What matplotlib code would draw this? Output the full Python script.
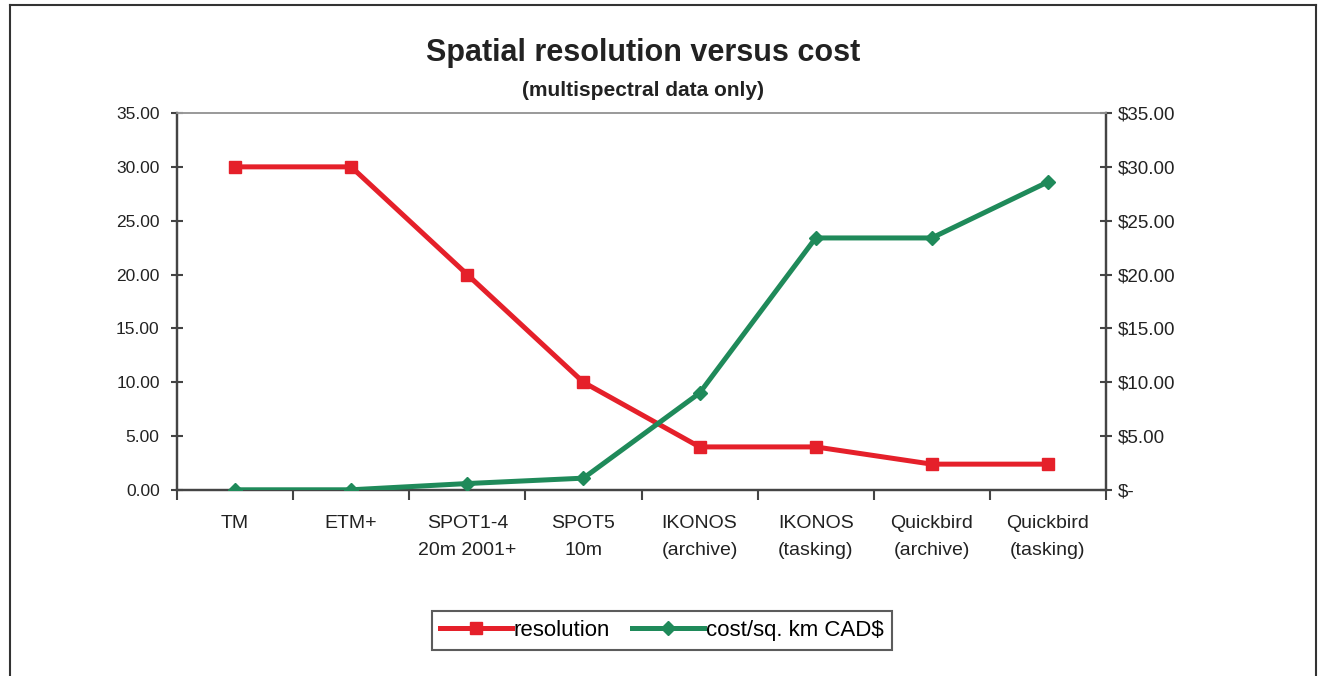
import matplotlib
matplotlib.use("Agg")
import matplotlib.pyplot as plt
from matplotlib.lines import Line2D
from matplotlib.ticker import FuncFormatter, MultipleLocator, FixedLocator

plt.rcParams['font.family'] = ['Liberation Sans', 'DejaVu Sans']

categories = ["TM", "ETM+", "SPOT1-4\n20m 2001+", "SPOT5\n10m", "IKONOS\n(archive)",
              "IKONOS\n(tasking)", "Quickbird\n(archive)", "Quickbird\n(tasking)"]
resolution = [30.0, 30.0, 20.0, 10.0, 4.0, 4.0, 2.4, 2.4]
cost = [0.02, 0.02, 0.6, 1.1, 9.0, 23.4, 23.4, 28.6]

red = "#e5202a"
green = "#1f8a5a"
axis_col = "#444444"

fig = plt.figure(figsize=(13.18, 6.76), dpi=100)
ax = fig.add_axes([177/1318, 186/676, (1106-177)/1318, (490-113)/676])
ax2 = ax.twinx()

x = list(range(len(categories)))
ax.plot(x, resolution, color=red, lw=3.6, marker='s', markersize=8.5, label='resolution', zorder=3)
ax2.plot(x, cost, color=green, lw=3.6, marker='D', markersize=7, label='cost/sq. km CAD$', zorder=3)

ax.set_xlim(-0.5, len(categories) - 0.5)
ax.set_ylim(0, 35)
ax2.set_ylim(0, 35)

ax.yaxis.set_major_locator(MultipleLocator(5))
ax2.yaxis.set_major_locator(MultipleLocator(5))
ax.yaxis.set_major_formatter(FuncFormatter(lambda v, p: f"{v:.2f}"))
ax2.yaxis.set_major_formatter(FuncFormatter(lambda v, p: "$-" if abs(v) < 1e-9 else f"${v:.2f}"))

ax.set_xticks(x)
ax.set_xticklabels(categories, fontsize=14, color="#222222", linespacing=1.75)
ax.xaxis.set_minor_locator(FixedLocator([i - 0.5 for i in range(len(categories) + 1)]))
ax.tick_params(axis='x', which='major', length=0, pad=18)
ax.tick_params(axis='x', which='minor', length=7, width=1.5, color=axis_col, direction='out')
ax.tick_params(axis='y', length=9, width=1.5, color=axis_col, direction='inout',
               labelsize=12.5, labelcolor="#222222", pad=8)
ax2.tick_params(axis='y', length=9, width=1.5, color=axis_col, direction='inout',
                labelsize=13.5, labelcolor="#222222", pad=4)

for a in (ax, ax2):
    for side in ('left', 'right', 'bottom'):
        a.spines[side].set_color(axis_col)
        a.spines[side].set_linewidth(1.6)
    a.spines['top'].set_color("#999999")
    a.spines['top'].set_linewidth(1.2)

fig.text(0.488, 1 - 53/676, "Spatial resolution versus cost", ha='center', va='center',
         fontsize=22, fontweight='bold', color="#222222")
fig.text(0.488, 1 - 90/676, "(multispectral data only)", ha='center', va='center',
         fontsize=15, fontweight='bold', color="#222222")

# outer frame
for xs, ys in [((10/1318, 10/1318), (0, 1 - 5/676)),
               ((10/1318, 1316/1318), (1 - 5/676, 1 - 5/676)),
               ((1316/1318, 1316/1318), (0, 1 - 5/676))]:
    fig.add_artist(Line2D(xs, ys, color="#333333", lw=1.5, transform=fig.transFigure))

h1, l1 = ax.get_legend_handles_labels()
h2, l2 = ax2.get_legend_handles_labels()
leg = fig.legend(h1 + h2, l1 + l2, loc='center', bbox_to_anchor=(662/1318, 1 - 630.5/676),
                 ncol=2, fontsize=16, frameon=True, fancybox=False, handlelength=3.2,
                 handletextpad=0.1, columnspacing=1.0, borderpad=0.4)
leg.get_frame().set_edgecolor("#333333")
leg.get_frame().set_linewidth(1.5)

fig.savefig("out.png", dpi=100)
